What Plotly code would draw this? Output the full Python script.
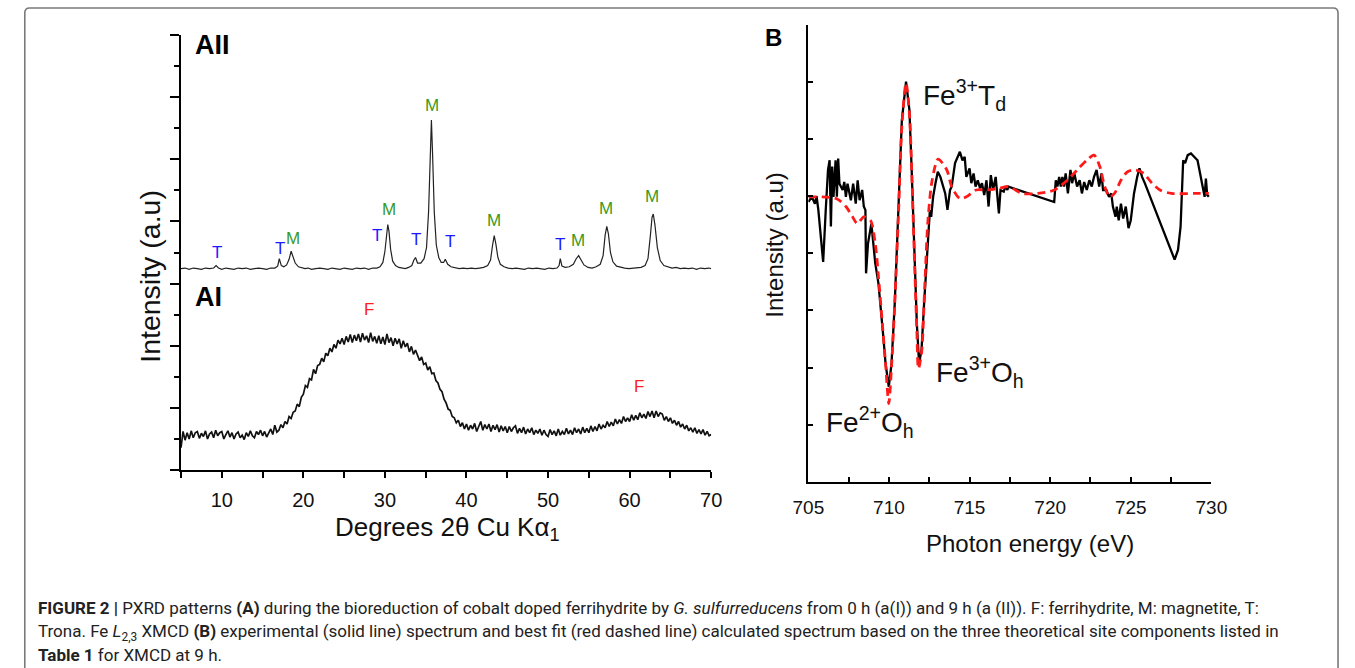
import plotly.graph_objects as go

# ---------------- Panel A data (PXRD) ----------------
AII_x = [5.0, 5.5, 6.0, 6.5, 7.0, 7.5, 8.0, 8.5, 9.0, 9.3, 9.6, 10.0, 10.5, 11.0, 11.5, 12.0,
         12.5, 13.0, 13.5, 14.0, 14.5, 15.0, 15.5, 16.0, 16.5, 16.85, 17.05, 17.3, 17.6, 17.95,
         18.25, 18.5, 18.75, 19.0, 19.4, 19.8, 20.2, 20.6, 21.0, 21.5, 22.0, 22.5, 23.0, 23.5,
         24.0, 24.5, 25.0, 25.5, 26.0, 26.5, 27.0, 27.5, 28.0, 28.5, 29.0, 29.4, 29.75, 30.0,
         30.2, 30.35, 30.5, 30.7, 30.95, 31.3, 31.7, 32.1, 32.5, 32.9, 33.3, 33.55, 33.75, 34.0,
         34.4, 34.8, 35.1, 35.35, 35.55, 35.7, 35.85, 36.05, 36.3, 36.6, 36.9, 37.2, 37.4, 37.7,
         38.1, 38.6, 39.1, 39.6, 40.1, 40.6, 41.1, 41.6, 42.1, 42.6, 42.95, 43.2, 43.4, 43.6,
         43.85, 44.15, 44.6, 45.1, 45.6, 46.1, 46.6, 47.1, 47.6, 48.1, 48.6, 49.1, 49.6, 50.1,
         50.6, 51.1, 51.35, 51.5, 51.7, 52.1, 52.6, 53.1, 53.45, 53.75, 54.05, 54.4, 54.9, 55.4,
         55.9, 56.4, 56.75, 57.0, 57.2, 57.4, 57.65, 57.95, 58.4, 58.9, 59.4, 59.9, 60.4, 60.9,
         61.4, 61.9, 62.25, 62.55, 62.75, 62.9, 63.1, 63.4, 63.75, 64.2, 64.7, 65.2, 65.7, 66.2,
         66.7, 67.2, 67.7, 68.2, 68.7, 69.2, 69.7, 70.0]
AII_y = [3.24, 3.25, 3.23, 3.25, 3.24, 3.23, 3.25, 3.24, 3.25, 3.29, 3.25, 3.23, 3.25, 3.24, 3.23, 3.25,
         3.24, 3.25, 3.23, 3.24, 3.25, 3.24, 3.23, 3.25, 3.25, 3.28, 3.40, 3.29, 3.27, 3.30,
         3.39, 3.52, 3.44, 3.33, 3.27, 3.25, 3.24, 3.25, 3.23, 3.24, 3.25, 3.24, 3.23, 3.25,
         3.24, 3.23, 3.25, 3.24, 3.23, 3.25, 3.24, 3.25, 3.23, 3.25, 3.25, 3.27, 3.34, 3.52,
         3.82, 3.95, 3.84, 3.55, 3.36, 3.29, 3.26, 3.25, 3.24, 3.26, 3.29, 3.38, 3.42, 3.33,
         3.33, 3.40, 3.58, 4.15, 5.05, 5.63, 5.05, 4.15, 3.62, 3.42, 3.34, 3.34, 3.39, 3.31,
         3.27, 3.25, 3.24, 3.25, 3.24, 3.25, 3.24, 3.25, 3.26, 3.29, 3.38, 3.62, 3.77, 3.64,
         3.42, 3.31, 3.27, 3.25, 3.24, 3.25, 3.24, 3.23, 3.25, 3.24, 3.25, 3.24, 3.23, 3.25,
         3.24, 3.25, 3.29, 3.40, 3.28, 3.26, 3.27, 3.31, 3.40, 3.45, 3.38, 3.30, 3.26, 3.25,
         3.27, 3.31, 3.45, 3.78, 3.92, 3.80, 3.50, 3.35, 3.28, 3.26, 3.25, 3.24, 3.25, 3.25,
         3.26, 3.29, 3.40, 3.78, 4.07, 4.12, 3.95, 3.58, 3.37, 3.29, 3.27, 3.25, 3.26, 3.24,
         3.25, 3.24, 3.25, 3.23, 3.25, 3.24, 3.25, 3.24]

# AI pattern sampled every 0.25 degree from 5 to 70 degrees
AI_start = 5.0
AI_step = 0.25
AI_y = [
    0.36, 0.62, 0.48, 0.60,  0.50, 0.63, 0.52, 0.60,  0.62, 0.51, 0.59, 0.54,  0.63, 0.50, 0.58, 0.61,
    0.52, 0.64, 0.55, 0.60,  0.62, 0.50, 0.57, 0.63,  0.53, 0.60, 0.50, 0.58,  0.61, 0.52, 0.56, 0.49,
    0.60, 0.54, 0.63, 0.55,  0.52, 0.62, 0.57, 0.64,  0.55, 0.62, 0.53, 0.60,  0.66, 0.57, 0.72, 0.61,
    0.64, 0.73, 0.68, 0.78,  0.74, 0.86, 0.83, 0.93,  0.95, 1.06, 1.02, 1.17,  1.22, 1.36, 1.33, 1.47,
    1.45, 1.62, 1.55, 1.68,  1.70, 1.80, 1.74, 1.88,  1.84, 1.96, 1.90, 2.02,  1.96, 2.09, 2.03, 2.12,
    2.02, 2.15, 2.06, 2.18,  2.05, 2.17, 2.08, 2.19,  2.06, 2.20, 2.09, 2.16,  2.05, 2.21, 2.07, 2.15,
    2.04, 2.16, 2.03, 2.14,  2.02, 2.19, 2.05, 2.13,  2.00, 2.12, 2.03, 2.11,  1.96, 2.08, 1.98, 2.04,
    1.90, 1.99, 1.86, 1.93,  1.85, 1.76, 1.82, 1.70,  1.72, 1.61, 1.66, 1.55,  1.56, 1.44, 1.40, 1.30,
    1.26, 1.14, 1.08, 0.98,  0.96, 0.86, 0.84, 0.76,  0.80, 0.70, 0.76, 0.66,  0.74, 0.64, 0.72, 0.66,
    0.75, 0.62, 0.70, 0.78,  0.64, 0.73, 0.66, 0.74,  0.62, 0.72, 0.65, 0.73,  0.61, 0.71, 0.63, 0.70,
    0.60, 0.70, 0.62, 0.68,  0.71, 0.59, 0.67, 0.60,  0.69, 0.58, 0.66, 0.60,  0.68, 0.57, 0.64, 0.59,
    0.66, 0.56, 0.64, 0.57,  0.54, 0.65, 0.57, 0.63,  0.55, 0.66, 0.56, 0.62,  0.57, 0.67, 0.58, 0.64,
    0.57, 0.68, 0.60, 0.66,  0.58, 0.69, 0.60, 0.67,  0.60, 0.71, 0.62, 0.70,  0.63, 0.74, 0.66, 0.72,
    0.68, 0.78, 0.70, 0.77,  0.71, 0.82, 0.74, 0.81,  0.75, 0.86, 0.78, 0.84,  0.78, 0.89, 0.80, 0.88,
    0.81, 0.92, 0.84, 0.90,  0.83, 0.94, 0.86, 0.95,  0.84, 0.95, 0.86, 0.92,  0.90, 0.80, 0.86, 0.78,
    0.84, 0.75, 0.80, 0.72,  0.78, 0.69, 0.74, 0.66,  0.72, 0.63, 0.68, 0.61,  0.68, 0.59, 0.65, 0.58,
    0.65, 0.56, 0.62, 0.55,  0.57,
]
AI_x = [AI_start + i * AI_step for i in range(len(AI_y))]

# phase labels (position of each letter in data units)
T_x = [9.45, 17.1, 29.0, 33.8, 38.0, 51.5]
T_y = [3.50, 3.57, 3.78, 3.71, 3.67, 3.63]
M_x = [18.76, 30.54, 35.8, 43.4, 53.7, 57.1, 62.75]
M_y = [3.73, 4.20, 5.87, 4.02, 3.69, 4.21, 4.40]
F_x = [28.0, 61.1]
F_y = [2.59, 1.34]

A_xticks = [10, 20, 30, 40, 50, 60, 70]

# ---------------- Panel B data (XMCD) ----------------
xmcd_exp_E = [705.01, 705.21, 705.41, 705.51, 705.62, 705.82, 705.92, 706.08, 706.22, 706.32,
              706.40, 706.48, 706.56, 706.69, 706.77, 706.85, 706.93, 707.13, 707.23, 707.33,
              707.43, 707.64, 707.78, 707.94, 708.06, 708.18, 708.34, 708.44, 708.54, 708.58,
              708.70, 708.91, 709.05, 709.15, 709.35, 709.51, 709.65, 709.79, 709.99, 710.16,
              710.36, 710.60, 710.80, 711.06, 711.27, 711.41, 711.57, 711.73, 711.87, 712.02,
              712.18, 712.38, 712.54, 712.62, 712.74, 712.88, 713.03, 713.19, 713.35, 713.49,
              713.63, 713.79, 713.89, 714.10, 714.40, 714.56, 714.70, 714.80, 715.00, 715.11,
              715.25, 715.37, 715.51, 715.65, 715.77, 715.91, 716.05, 716.18, 716.32, 716.46,
              716.62, 716.72, 716.82, 716.92, 717.12, 717.22, 717.35, 717.39, 720.25, 720.35,
              720.45, 720.56, 720.66, 720.76, 720.86, 720.96, 721.10, 721.26, 721.36, 721.50,
              721.67, 721.83, 721.97, 722.11, 722.27, 722.43, 722.58, 722.72, 722.88, 723.04,
              723.18, 723.28, 723.48, 723.65, 723.79, 723.89, 724.05, 724.13, 724.25, 724.39,
              724.53, 724.69, 724.86, 725.00, 725.20, 725.40, 725.54, 725.70, 725.87, 727.72,
              727.93, 728.09, 728.17, 728.25, 728.37, 728.53, 728.73, 729.14, 729.30, 729.44,
              729.58, 729.66, 729.74, 729.84]
xmcd_exp_I = [4.90, 4.99, 4.87, 5.00, 4.76, 4.17, 3.85, 4.76, 5.46, 5.63,
              4.47, 5.52, 4.99, 5.63, 4.99, 5.66, 5.22, 5.11, 5.25, 4.99,
              5.22, 4.93, 5.22, 4.87, 5.28, 4.93, 5.11, 4.82, 4.76, 3.65,
              4.17, 4.52, 4.12, 3.83, 3.47, 3.01, 2.54, 2.07, 1.66, 2.07,
              3.12, 4.87, 6.33, 7.01, 6.51, 5.46, 4.00, 2.77, 2.07, 2.31,
              3.12, 4.00, 4.76, 4.64, 4.99, 5.22, 5.43, 5.34, 5.17, 5.05,
              4.76, 5.11, 5.17, 5.58, 5.78, 5.63, 5.69, 5.34, 5.49, 5.23,
              5.40, 5.17, 5.28, 5.14, 5.23, 5.02, 5.28, 4.82, 5.37, 5.11,
              5.34, 4.94, 4.70, 5.11, 5.08, 5.17, 5.11, 5.17, 4.90, 5.28,
              5.17, 5.34, 5.17, 5.34, 5.17, 5.40, 5.05, 5.46, 5.23, 5.40,
              5.17, 5.28, 5.05, 5.25, 5.11, 5.28, 5.17, 5.34, 5.46, 5.17,
              5.40, 5.11, 5.11, 4.99, 5.05, 4.82, 4.64, 4.82, 4.58, 4.87,
              4.61, 4.82, 4.44, 4.58, 5.05, 5.34, 5.49, 5.34, 5.23, 3.89,
              4.06, 4.47, 5.17, 5.63, 5.58, 5.72, 5.75, 5.63, 5.40, 5.17,
              4.99, 5.31, 5.02, 4.99]

xmcd_fit_E = [705.01, 706.73, 707.33, 707.74, 708.04, 708.44, 708.85, 709.15, 709.35, 709.59,
              709.79, 709.99, 710.16, 710.36, 710.60, 710.80, 711.06, 711.27, 711.41, 711.57,
              711.73, 711.83, 712.02, 712.22, 712.42, 712.68, 713.05, 713.59, 713.89, 714.40,
              714.80, 715.41, 716.01, 716.82, 717.43, 718.24, 719.25, 720.25, 721.06, 721.67,
              722.27, 722.72, 723.08, 723.38, 723.69, 723.99, 724.39, 724.80, 725.30, 725.81,
              726.31, 726.81, 727.52, 728.93, 729.84]
xmcd_fit_I = [4.99, 4.96, 4.82, 4.64, 4.52, 4.64, 4.58, 4.17, 3.59, 2.77,
              2.07, 1.37, 2.02, 3.12, 4.76, 6.22, 6.98, 6.45, 5.46, 4.00,
              2.66, 1.98, 2.25, 3.42, 4.58, 5.28, 5.65, 5.46, 5.17, 4.96,
              4.99, 5.11, 5.11, 5.14, 5.17, 5.05, 5.05, 5.11, 5.28, 5.46,
              5.63, 5.72, 5.52, 5.17, 4.99, 5.05, 5.28, 5.43, 5.46, 5.40,
              5.23, 5.11, 5.05, 5.05, 5.05]

B_xticks = [705, 710, 715, 720, 725, 730]

# ---------------- figure ----------------
W, H = 1355, 668
FONT = "Arial, Liberation Sans, Helvetica, sans-serif"


def px(x):
    return x / W


def py(y):
    return 1 - y / H


fig = go.Figure()

fig.add_trace(go.Scatter(x=AI_x, y=AI_y, mode="lines", xaxis="x", yaxis="y",
                         line=dict(color="#111111", width=1.7), showlegend=False, name="AI"))
fig.add_trace(go.Scatter(x=AII_x, y=AII_y, mode="lines", xaxis="x", yaxis="y",
                         line=dict(color="#222222", width=1.2), showlegend=False, name="AII"))

fig.add_trace(go.Scatter(x=xmcd_exp_E, y=xmcd_exp_I, mode="lines", xaxis="x2", yaxis="y2",
                         line=dict(color="black", width=2.3), showlegend=False, name="experimental"))
fig.add_trace(go.Scatter(x=xmcd_fit_E, y=xmcd_fit_I, mode="lines", xaxis="x2", yaxis="y2",
                         line=dict(color="#ff1a1a", width=2.8, dash="8px,5px", shape="spline", smoothing=0.8),
                         showlegend=False, name="fit"))

axis_common = dict(showgrid=False, zeroline=False, showline=True, linecolor="black", linewidth=1.6,
                   tickcolor="black", tickwidth=1.5)

fig.update_layout(
    autosize=True, height=H, margin=dict(l=0, r=0, t=0, b=0),
    paper_bgcolor="white", plot_bgcolor="rgba(0,0,0,0)",
    font=dict(family=FONT, color="#111111"),
    xaxis=dict(domain=[px(169), px(712)], range=[5, 70], anchor="y",
               tickmode="array", tickvals=A_xticks, ticks="outside", ticklen=6,
               minor=dict(dtick=5, tick0=0, ticks="outside", ticklen=6, tickcolor="black", tickwidth=1.5),
               tickfont=dict(size=20, color="#111111"), ticklabelstandoff=5, **axis_common),
    yaxis=dict(domain=[py(470), py(35)], range=[0, 7], anchor="x",
               dtick=1, tick0=0, ticks="outside", ticklen=9, showticklabels=False,
               minor=dict(dtick=0.5, tick0=0, ticks="outside", ticklen=5, tickcolor="black", tickwidth=1.5),
               **axis_common),
    xaxis2=dict(domain=[px(811.5), px(1224.3)], range=[705, 730], anchor="y2",
                tickmode="array", tickvals=B_xticks, ticks="inside", ticklen=5,
                minor=dict(dtick=2.5, tick0=705, ticks="inside", ticklen=5, tickcolor="black", tickwidth=1.5),
                tickfont=dict(size=19, color="#111111"), ticklabelstandoff=8, **axis_common),
    yaxis2=dict(domain=[py(481.7), py(25)], range=[0, 8], anchor="x2",
                dtick=1, tick0=0, ticks="inside", ticklen=5, showticklabels=False, **axis_common),
)

ann = []
# phase letters
for xs, ys, letter, col in [(T_x, T_y, "T", "#1a1aff"), (M_x, M_y, "M", "#3c9a1e"), (F_x, F_y, "F", "#ff2020")]:
    for xv, yv in zip(xs, ys):
        ann.append(dict(text=letter, x=xv, y=yv, xref="x", yref="y", showarrow=False,
                        xanchor="center", yanchor="middle", font=dict(size=17, color=col)))
# axis titles
ann.append(dict(text="Degrees 2θ Cu Kα<sub>1</sub>", x=px(442), y=py(528), xref="paper", yref="paper",
                showarrow=False, xanchor="center", yanchor="middle", font=dict(size=26, color="#111111")))
ann.append(dict(text="Intensity (a.u)", x=px(137), y=py(276), xref="paper", yref="paper", textangle=-90,
                showarrow=False, xanchor="center", yanchor="middle", font=dict(size=28.5, color="#111111")))
ann.append(dict(text="Photon energy (eV)", x=px(1039), y=py(543), xref="paper", yref="paper",
                showarrow=False, xanchor="center", yanchor="middle", font=dict(size=24, color="#111111")))
ann.append(dict(text="Intensity (a.u)", x=px(777), y=py(245), xref="paper", yref="paper", textangle=-90,
                showarrow=False, xanchor="center", yanchor="middle", font=dict(size=24, color="#111111")))
# panel labels
ann.append(dict(text="<b>AII</b>", x=px(181), y=py(45), xref="paper", yref="paper", showarrow=False,
                xanchor="left", yanchor="middle", font=dict(size=27, color="black")))
ann.append(dict(text="<b>AI</b>", x=px(181), y=py(297), xref="paper", yref="paper", showarrow=False,
                xanchor="left", yanchor="middle", font=dict(size=27, color="black")))
ann.append(dict(text="<b>B</b>", x=px(776), y=py(38), xref="paper", yref="paper", showarrow=False,
                xanchor="center", yanchor="middle", font=dict(size=24, color="black")))
# XMCD site labels
ann.append(dict(text="Fe<sup>3+</sup>T<sub>d</sub>", x=711.98, y=6.77, xref="x2", yref="y2", showarrow=False,
                xanchor="left", yanchor="middle", font=dict(size=28, color="#111111")))
ann.append(dict(text="Fe<sup>3+</sup>O<sub>h</sub>", x=712.78, y=1.92, xref="x2", yref="y2", showarrow=False,
                xanchor="left", yanchor="middle", font=dict(size=28, color="#111111")))
ann.append(dict(text="Fe<sup>2+</sup>O<sub>h</sub>", x=706.0, y=1.05, xref="x2", yref="y2", showarrow=False,
                xanchor="left", yanchor="middle", font=dict(size=28, color="#111111")))

# caption
CAP = dict(size=17.0, color="#222222", family="Roboto, Liberation Sans, Arial, sans-serif")
cap_lines = [
    "<b>FIGURE 2 |</b> PXRD patterns <b>(A)</b> during the bioreduction of cobalt doped ferrihydrite by "
    "<i>G. sulfurreducens</i> from 0 h (a(I)) and 9 h (a (II)). F: ferrihydrite, M: magnetite, T:",
    "Trona. Fe <i>L</i><sub>2,3</sub> XMCD <b>(B)</b> experimental (solid line) spectrum and best fit "
    "(red dashed line) calculated spectrum based on the three theoretical site components listed in",
    "<b>Table 1</b> for XMCD at 9 h.",
]
for txt, yy in zip(cap_lines, [608, 632, 655]):
    ann.append(dict(text=txt, x=px(20), y=py(yy), xref="paper", yref="paper", showarrow=False,
                    xanchor="left", yanchor="middle", font=CAP))

fig.update_layout(annotations=ann)

# rounded frame around the figure
r = 5
frame = (f"M {px(9)},{py(700)} L {px(9)},{py(8 + r)} Q {px(9)},{py(8)} {px(9 + r)},{py(8)} "
         f"L {px(1354 - r)},{py(8)} Q {px(1354)},{py(8)} {px(1354)},{py(8 + r)} L {px(1354)},{py(700)}")
fig.add_shape(type="path", path=frame, xref="paper", yref="paper",
              line=dict(color="#7a7a7a", width=1.6), layer="above")

fig.write_html(
    "out.html",
    config={"displayModeBar": False, "responsive": True},
    default_width="100%",
    default_height="668px",
    post_script=("document.body.style.margin='0';"
                 "document.documentElement.style.overflow='hidden';"
                 "Plotly.Plots.resize(document.getElementById('{plot_id}'));"),
)
